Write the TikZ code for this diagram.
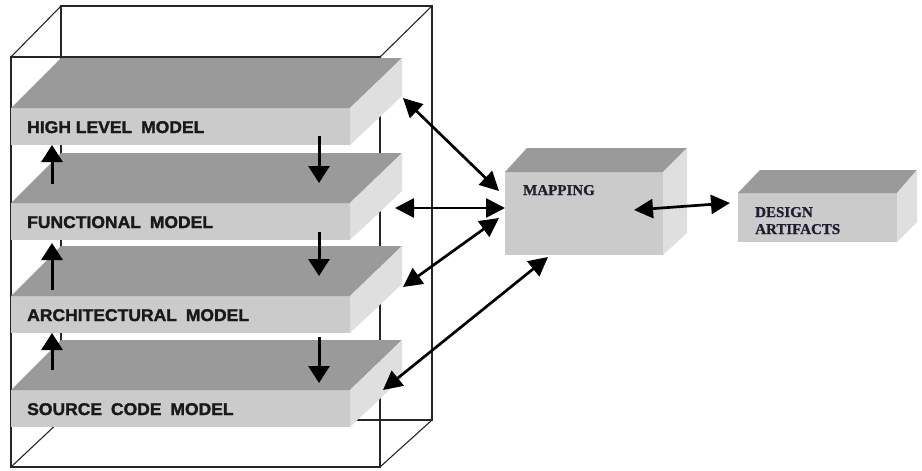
\documentclass[tikz,border=0pt]{standalone}
\usepackage{fontspec}
\setmainfont{Liberation Serif}
\setsansfont{Liberation Sans}
\newfontfamily\heavysans{Liberation Sans}[BoldFont={Liberation Sans Bold}, BoldFeatures={FakeBold=1.6, FakeStretch=1.03}]
\newfontfamily\heavyserif{Liberation Serif}[BoldFont={Liberation Serif Bold}, BoldFeatures={FakeBold=0.8}]
\usetikzlibrary{arrows.meta}
\definecolor{topg}{HTML}{9A9A9A}
\definecolor{frontg}{HTML}{CBCBCB}
\definecolor{sideg}{HTML}{DFDFDF}
\definecolor{inkblue}{HTML}{1E1E30}
\newcommand\myslab[3]{%
  \node[slabfront] (#1) at (11,#2) {};
  \fill[topg] (#1.north west) -- ++(50,-50) -- ++(341,0) -- (#1.north east) -- cycle;
  \fill[sideg] (#1.north east) -- ++(52,-50) -- ++(0,38) -- (#1.south east) -- cycle;
  \node[slablabel] (#1-t) at ([xshift=16pt,yshift=-25pt]#1.north west) {#3};
}
\begin{document}
\begin{tikzpicture}[x=1pt,y=-1pt,
  wire/.style={line width=1.1pt, draw=black!85},
  slabfront/.style={fill=frontg, draw=none, inner sep=0pt, outer sep=0pt, anchor=north west,
    minimum width=339pt, minimum height=37pt},
  boxfront/.style={fill=frontg, draw=none, inner sep=0pt, outer sep=0pt, anchor=north west},
  slablabel/.style={anchor=base west, inner sep=0pt, text=black!90, font=\heavysans\bfseries\fontsize{17}{19}\selectfont},
  boxlabel/.style={anchor=base west, inner sep=0pt, text=inkblue, font=\heavyserif\bfseries\fontsize{15}{17}\selectfont},
  vert/.style={line width=3pt, -{Triangle[length=17pt,width=21pt]}},
  bi/.style={line width=2.7pt, {Triangle[length=19pt,width=19pt]}-{Triangle[length=19pt,width=19pt]}}]

\useasboundingbox (0,0) rectangle (922,471);
\fill[white] (0,0) rectangle (922,471);

% wire-frame box
\draw[wire] (61,6) rectangle (432,420);
\draw[wire] (11,57) rectangle (380,467);
\draw[wire] (11,57) -- (61,6) (380,57) -- (432,6) (380,467) -- (432,420) (11,467) -- (61,420);

% slabs
\myslab{hl}{108}{HIGH LEVEL\hspace{4pt} MODEL}
\myslab{fn}{203}{FUNCTIONAL\hspace{4pt} MODEL}
\myslab{ar}{296}{ARCHITECTURAL\hspace{4pt} MODEL}
\myslab{sc}{390}{SOURCE\hspace{4pt} CODE\hspace{4pt} MODEL}

% vertical arrows between slabs
\coordinate (u1s) at (52,184); \coordinate (u1e) at (52,145);
\coordinate (u2s) at (52,290); \coordinate (u2e) at (52,243);
\coordinate (u3s) at (52,370); \coordinate (u3e) at (52,333);
\coordinate (d1s) at (319,136); \coordinate (d1e) at (319,183);
\coordinate (d2s) at (319,232); \coordinate (d2e) at (319,276);
\coordinate (d3s) at (319,337); \coordinate (d3e) at (319,383);
\draw[vert] (u1s) -- (u1e);
\draw[vert] (u2s) -- (u2e);
\draw[vert] (u3s) -- (u3e);
\draw[vert] (d1s) -- (d1e);
\draw[vert] (d2s) -- (d2e);
\draw[vert] (d3s) -- (d3e);

% MAPPING box
\node[boxfront, minimum width=158pt, minimum height=83pt] (map) at (505,172) {};
\fill[topg] (map.north west) -- (527,148) -- (687,148) -- (map.north east) -- cycle;
\fill[sideg] (map.north east) -- (687,148) -- (687,233) -- (map.south east) -- cycle;
\node[boxlabel] (map-t) at (523,195) {MAPPING};

% DESIGN ARTIFACTS box
\node[boxfront, minimum width=159pt, minimum height=49pt] (des) at (738,193) {};
\fill[topg] (des.north west) -- (760,170) -- (917,170) -- (des.north east) -- cycle;
\fill[sideg] (des.north east) -- (917,170) -- (917,222) -- (des.south east) -- cycle;
\node[boxlabel] (des-t1) at (755,217) {DESIGN};
\node[boxlabel] (des-t2) at (755,234) {ARTIFACTS};

% connectors to MAPPING
\coordinate (a1s) at (403,98);  \coordinate (a1e) at (499,191);
\coordinate (a2s) at (395,208); \coordinate (a2e) at (505,208);
\coordinate (a3s) at (403,287); \coordinate (a3e) at (499,218);
\coordinate (a4s) at (383,390); \coordinate (a4e) at (548,257);
\coordinate (a5s) at (634,210); \coordinate (a5e) at (730,203);
\draw[bi] (a1s) -- (a1e);
\draw[bi] (a2s) -- (a2e);
\draw[bi] (a3s) -- (a3e);
\draw[bi] (a4s) -- (a4e);
\draw[bi] (a5s) -- (a5e);
\end{tikzpicture}
\end{document}
